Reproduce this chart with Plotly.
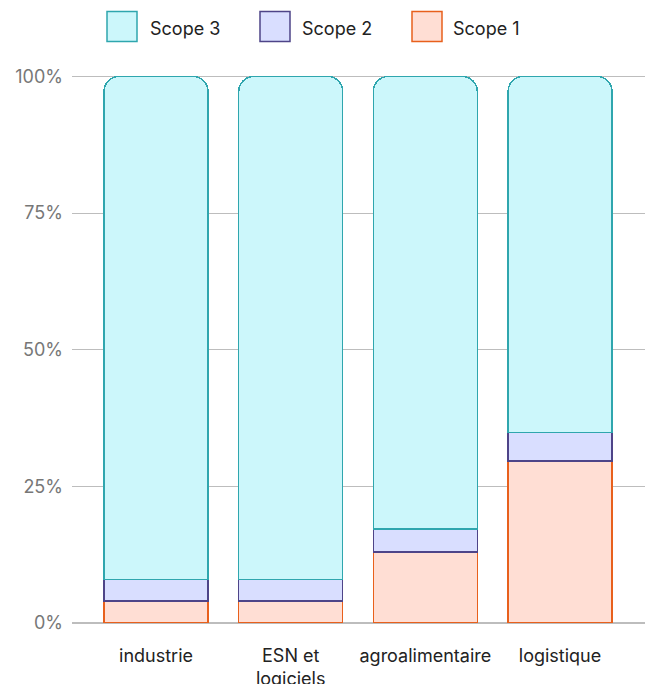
import plotly.graph_objects as go

categories = ["industrie", "ESN et logiciels", "agroalimentaire", "logistique"]
tick_labels = ["industrie", "ESN et<br>logiciels", "agroalimentaire", "logistique"]
scope1 = [0.040, 0.040, 0.130, 0.296]
scope2 = [0.040, 0.040, 0.042, 0.053]
scope3 = [0.920, 0.920, 0.828, 0.651]
y_ticks = [0, 0.25, 0.5, 0.75, 1.0]
y_tick_labels = ["0%", "25%", "50%", "75%", "100%"]

series = [
    ("Scope 1", scope1, "#FFDED4", "#E8601C"),
    ("Scope 2", scope2, "#D9DEFF", "#4E4488"),
    ("Scope 3", scope3, "#CCF7FB", "#2FA6AE"),
]

fig = go.Figure()
for name, vals, fill, edge in series:
    fig.add_trace(go.Bar(
        x=list(range(len(categories))), y=vals, name=name,
        marker=dict(color=fill, line=dict(color=edge, width=1.5)),
        width=0.772, showlegend=False, hoverinfo="skip",
    ))

W, H = 650, 684
L, R, T, B = 72, 5, 70.5, 61
PW, PH = W - L - R, H - T - B

def px_x(px):
    return (px - L) / PW

def px_y(py):
    return 1 + (T - py) / PH

# manual legend
legend_items = [("Scope 3", "#CCF7FB", "#2FA6AE", 107, 150),
                ("Scope 2", "#D9DEFF", "#4E4488", 260, 302),
                ("Scope 1", "#FFDED4", "#E8601C", 412, 453)]
for name, fill, edge, sx, tx in legend_items:
    fig.add_shape(type="rect", xref="paper", yref="paper",
                  x0=px_x(sx), x1=px_x(sx + 30),
                  y0=px_y(41), y1=px_y(11),
                  fillcolor=fill, line=dict(color=edge, width=1.5), layer="above")
    fig.add_annotation(xref="paper", yref="paper", x=px_x(tx - 2),
                       y=px_y(28), text=name, showarrow=False,
                       xanchor="left", yanchor="middle",
                       font=dict(family="Inter", size=18, color="#222222"))

fig.update_layout(
    width=W, height=H, barmode="stack", barcornerradius=15,
    plot_bgcolor="white", paper_bgcolor="white",
    margin=dict(l=L, r=R, t=T, b=B),
    font=dict(family="Inter", size=18, color="#222222"),
    xaxis=dict(range=[-0.624, 3.631], tickvals=list(range(len(categories))),
               ticktext=tick_labels, showgrid=False, zeroline=False,
               showline=False, ticks="", ticklabelstandoff=20, automargin=False,
               tickfont=dict(family="Inter", size=18, color="#222222")),
    yaxis=dict(range=[0, 1.01], tickvals=y_ticks, ticktext=y_tick_labels,
               showgrid=True, gridcolor="#BDBDBD", gridwidth=1,
               zeroline=True, zerolinecolor="#BDBDBD", zerolinewidth=1.5,
               ticks="", ticklabelstandoff=8, automargin=False,
               tickfont=dict(family="Inter", size=18, color="#777777")),
)

fig.write_html("out.html")
